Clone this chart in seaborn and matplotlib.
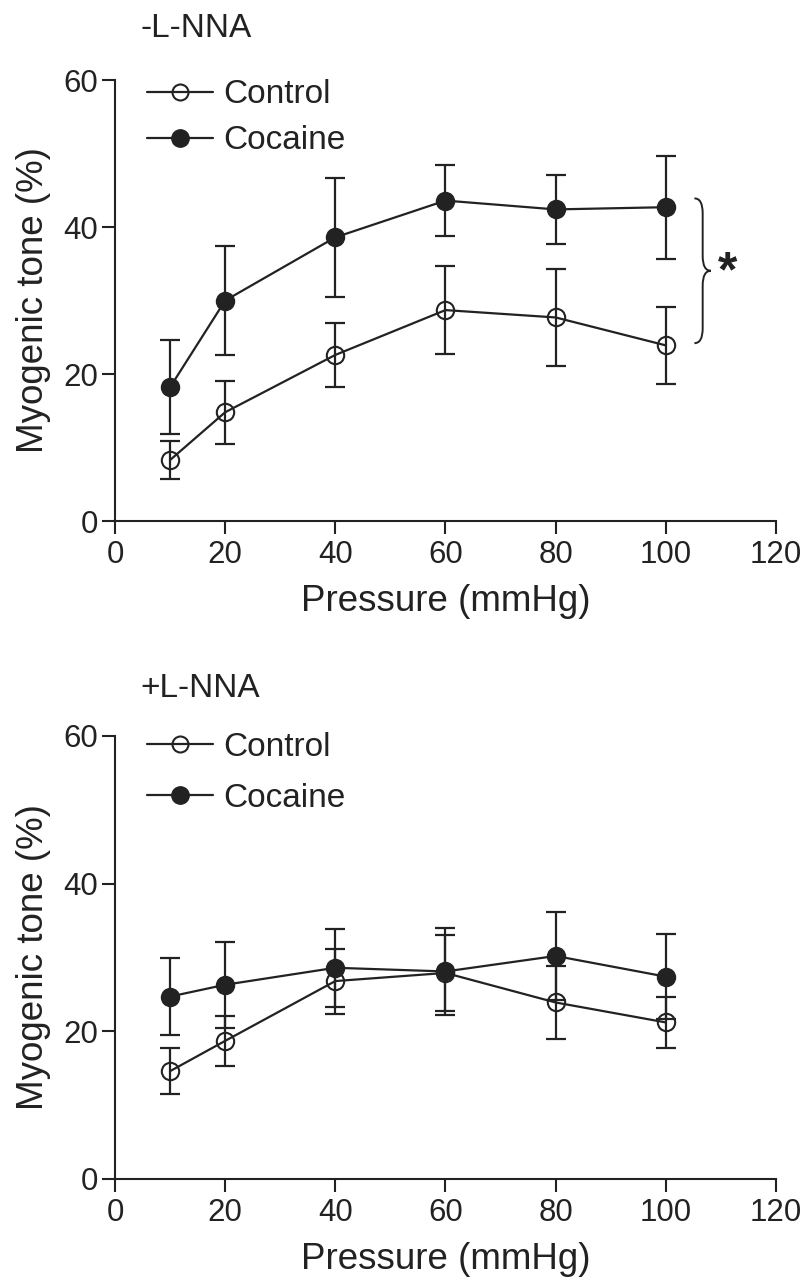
import matplotlib
matplotlib.use("Agg")
import matplotlib.pyplot as plt
from matplotlib.path import Path
from matplotlib.patches import PathPatch
from matplotlib.lines import Line2D
import seaborn as sns
import pandas as pd

# ---------------- data ----------------
pressure = [10, 20, 40, 60, 80, 100]

top_control_mean = [8.3, 14.8, 22.6, 28.7, 27.7, 23.9]
top_control_sem = [2.6, 4.3, 4.4, 6.0, 6.6, 5.2]
top_cocaine_mean = [18.2, 30.0, 38.6, 43.6, 42.4, 42.7]
top_cocaine_sem = [6.4, 7.4, 8.1, 4.8, 4.7, 7.0]

bot_control_mean = [14.6, 18.7, 26.8, 27.9, 23.9, 21.2]
bot_control_sem = [3.1, 3.4, 4.4, 5.1, 4.9, 3.4]
bot_cocaine_mean = [24.7, 26.3, 28.6, 28.1, 30.2, 27.4]
bot_cocaine_sem = [5.2, 5.8, 5.3, 5.9, 6.0, 5.8]

panel_titles = ["-L-NNA", "+L-NNA"]
series_labels = ["Control", "Cocaine"]
x_ticks = [0, 20, 40, 60, 80, 100, 120]
y_ticks = [0, 20, 40, 60]
x_label = "Pressure (mmHg)"
y_label = "Myogenic tone (%)"

# ---------------- style ----------------
sns.set_style("ticks")
plt.rcParams["font.family"] = ["Liberation Sans", "DejaVu Sans"]
plt.rcParams["axes.linewidth"] = 1.5
plt.rcParams["xtick.major.width"] = 1.5
plt.rcParams["ytick.major.width"] = 1.5
plt.rcParams["xtick.major.size"] = 9.5
plt.rcParams["ytick.major.size"] = 9.5
plt.rcParams["xtick.color"] = "#222222"
plt.rcParams["ytick.color"] = "#222222"
plt.rcParams["axes.edgecolor"] = "#222222"

INK = "#222222"
MS = 12.5

fig = plt.figure(figsize=(8.07, 12.83), dpi=100)
ax_top = fig.add_axes([0.1425, 0.5939, 0.8190, 0.3437])
ax_bot = fig.add_axes([0.1425, 0.0811, 0.8190, 0.3453])


def draw_panel(ax, ctrl_m, ctrl_s, coc_m, coc_s, title, title_y, legend_y, label_spacing):
    df = pd.DataFrame({
        "pressure": pressure * 2,
        "tone": ctrl_m + coc_m,
        "group": [series_labels[0]] * len(pressure) + [series_labels[1]] * len(pressure),
    })
    # error bars (mean ± SEM)
    ax.errorbar(pressure, ctrl_m, yerr=ctrl_s, fmt="none", ecolor=INK,
                elinewidth=1.6, capsize=7, capthick=1.6, zorder=2)
    ax.errorbar(pressure, coc_m, yerr=coc_s, fmt="none", ecolor=INK,
                elinewidth=1.6, capsize=7, capthick=1.6, zorder=2)
    sns.lineplot(data=df[df["group"] == series_labels[0]], x="pressure", y="tone",
                 ax=ax, color=INK, lw=1.6, marker="o", markersize=MS,
                 markerfacecolor="none", markeredgecolor=INK, markeredgewidth=1.5,
                 zorder=3, legend=False)
    sns.lineplot(data=df[df["group"] == series_labels[1]], x="pressure", y="tone",
                 ax=ax, color=INK, lw=1.6, marker="o", markersize=MS,
                 markerfacecolor=INK, markeredgecolor=INK, markeredgewidth=1.5,
                 zorder=4, legend=False)

    ax.set_xlim(0, 120)
    ax.set_ylim(0, 60)
    ax.set_xticks(x_ticks)
    ax.set_yticks(y_ticks)
    ax.tick_params(axis="x", labelsize=22.5, pad=4, labelcolor=INK)
    ax.tick_params(axis="y", labelsize=22.5, pad=2.5, labelcolor=INK)
    ax.set_xlabel(x_label, fontsize=26.5, color=INK, labelpad=10)
    ax.set_ylabel(y_label, fontsize=26.5, color=INK, labelpad=9)
    sns.despine(ax=ax)

    handles = [
        Line2D([], [], color=INK, lw=1.6, marker="o", markersize=MS - 1,
               markerfacecolor="none", markeredgecolor=INK, markeredgewidth=1.5),
        Line2D([], [], color=INK, lw=1.6, marker="o", markersize=MS,
               markerfacecolor=INK, markeredgecolor=INK),
    ]
    leg = ax.legend(handles, series_labels, loc="upper left",
                    bbox_to_anchor=(0.048, legend_y), frameon=False,
                    fontsize=24, handlelength=2.0, handletextpad=0.3,
                    labelspacing=label_spacing, borderaxespad=0, borderpad=0)
    for t in leg.get_texts():
        t.set_color(INK)

    ax.text(0.038, title_y, title, transform=ax.transAxes, fontsize=24,
            color=INK, ha="left", va="center")


draw_panel(ax_top, top_control_mean, top_control_sem, top_cocaine_mean,
           top_cocaine_sem, panel_titles[0], 1.117, 1.002, 0.45)
draw_panel(ax_bot, bot_control_mean, bot_control_sem, bot_cocaine_mean,
           bot_cocaine_sem, panel_titles[1], 1.107, 1.009, 0.60)

# significance brace on top panel (spans the two 100 mmHg means)
yt, yb = 43.9, 24.2
ym = (yt + yb) / 2
xl, xm, xr = 105.2, 106.7, 108.2
d = 2.0
verts = [(xl, yt), (xm, yt), (xm, yt - d),
         (xm, ym + d),
         (xm, ym), (xr, ym),
         (xm, ym), (xm, ym - d),
         (xm, yb + d),
         (xm, yb), (xl, yb)]
codes = [Path.MOVETO, Path.CURVE3, Path.CURVE3,
         Path.LINETO,
         Path.CURVE3, Path.CURVE3,
         Path.CURVE3, Path.CURVE3,
         Path.LINETO,
         Path.CURVE3, Path.CURVE3]
brace = PathPatch(Path(verts, codes), fill=False, edgecolor=INK, lw=1.4,
                  clip_on=False, zorder=5)
ax_top.add_patch(brace)
ax_top.text(111.3, ym - 0.4, "*", fontsize=36, fontweight="bold", color=INK,
            ha="center", va="center", clip_on=False)

fig.savefig("out.png", dpi=100)
